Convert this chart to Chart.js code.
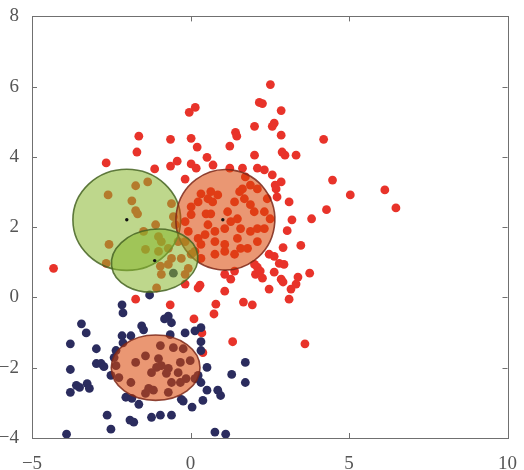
<!DOCTYPE html>
<html>
<head>
<meta charset="utf-8">
<script src="https://cdn.jsdelivr.net/npm/chart.js@4.4.1/dist/chart.umd.min.js"></script>
<style>
  html, body { margin: 0; padding: 0; background: #fff; }
  canvas { display: block; }
</style>
</head>
<body>
<canvas id="grafico" width="524" height="470"></canvas>
<script>
// =========================================================================
// 1. DATOS
// =========================================================================
var puntosRojos = [
  [-2.66,3.83],[-1.63,4.59],[-1.69,4.14],[-1.13,3.66],[-0.63,4.50],[-0.63,3.74],[-0.42,3.88],[-0.04,5.27],
  [0.15,5.41],[0.02,4.53],[0.21,4.28],[0.02,3.80],[0.18,3.68],[0.52,3.99],[0.71,3.77],[-0.17,3.37],
  [1.24,4.31],[1.42,4.70],[1.46,4.59],[2.02,4.87],[2.02,4.05],[2.17,5.55],[1.24,3.68],[1.64,3.68],
  [2.11,3.68],[2.52,6.06],[2.27,5.52],[2.86,5.32],[2.64,4.96],[2.58,4.87],[2.86,4.62],[4.20,4.50],
  [2.89,4.14],[2.98,4.05],[3.33,4.05],[2.33,3.63],[2.58,3.49],[2.86,3.29],[4.48,3.34],[2.70,3.09],
  [2.73,2.86],[5.04,2.92],[6.13,3.06],[6.48,2.55],[4.29,2.50],[3.82,2.24],[3.20,2.21],[3.05,1.90],
  [3.48,1.48],[2.92,1.42],[2.48,1.23],[2.64,1.17],[2.80,0.97],[2.95,0.94],[2.02,0.94],[2.11,0.86],
  [3.76,0.69],[2.64,0.72],[3.39,0.58],[2.86,0.52],[2.92,0.44],[2.05,0.66],[2.27,0.55],[1.08,0.66],
  [1.27,0.52],[0.30,0.35],[0.24,0.27],[1.08,0.18],[2.48,0.24],[3.17,0.24],[3.33,0.38],[3.11,-0.05],
  [1.67,-0.13],[1.95,-0.21],[0.80,-0.19],[0.74,-0.47],[0.11,-0.61],[1.33,-1.26],[3.61,-1.32],[-0.17,0.38],
  [-4.32,0.83],[-1.73,-0.05],[-0.64,-0.21],[0.39,-1.57],[0.36,-1.01],[2.67,3.20],[3.11,2.72],[2.20,0.75],
  [1.39,0.75],
  // bajo las elipses verdes
  [-2.60,2.92],[-1.73,3.18],[-1.35,3.29],[-1.85,2.75],[-1.73,2.47],[-1.67,2.38],[-1.10,2.07],[-2.57,1.51],
  [-2.66,0.97],[-0.60,2.67],[-0.54,2.30],[-0.48,2.07],[-1.48,1.88],[-1.01,1.73],[-0.92,1.59],[-1.42,1.37],
  [-1.01,1.31],[-0.70,1.40],[-0.60,1.11],[-0.70,0.94],[-0.95,0.89],[-0.92,0.66],[-1.07,0.27],[-0.17,0.66],
  [-0.07,0.83],[-0.29,1.11],[0.02,1.23],[-0.39,1.59],[-0.17,1.59],
  // dentro de la elipse naranja superior
  [0.33,2.95],[0.64,3.01],[0.86,2.92],[0.55,2.81],[0.24,2.72],[0.70,2.72],[0.02,2.58],[0.49,2.38],
  [0.64,2.38],[1.39,2.72],[1.55,3.01],[1.64,3.09],[1.73,3.43],[1.89,3.20],[2.11,3.09],[1.70,2.81],
  [1.89,2.64],[2.01,2.44],[2.33,2.44],[2.51,2.24],[2.33,1.96],[2.11,1.96],[1.89,1.88],[1.48,2.24],
  [1.27,2.16],[1.08,1.96],[0.77,1.88],[0.46,1.79],[0.24,1.68],[0.33,1.51],[0.77,1.59],[1.08,1.51],
  [1.48,1.68],[1.58,1.40],[1.39,1.23],[1.08,1.31],[0.77,1.23],[0.33,1.11],[0.14,1.31],[-0.07,1.88],
  [-0.17,2.16],[2.42,2.81],[1.17,2.44],[1.58,1.96],[2.11,1.59],[1.80,1.40],[0.55,2.07],[0.02,2.36]
];

var puntosAzules = [
  [-1.29,0.07],[-2.16,-0.21],[-2.13,-0.44],[-3.44,-0.75],[-3.29,-1.01],[-3.79,-1.32],[-2.97,-1.46],[-1.54,-0.81],
  [-1.48,-0.92],[-2.16,-1.09],[-1.88,-1.09],[-2.13,-1.29],[-0.70,-0.53],[-0.60,-0.72],[-0.82,-0.61],[-0.64,-1.06],
  [-0.17,-1.01],[0.14,-0.95],[0.33,-0.86],[0.33,-1.26],[0.33,-1.51],[-2.41,-1.71],[-2.97,-1.88],[-2.82,-1.88],
  [-2.73,-1.97],[-3.79,-2.05],[-3.60,-2.50],[-3.50,-2.56],[-3.79,-2.70],[-3.26,-2.45],[-3.19,-2.59],[-2.51,-2.22],
  [0.52,-1.99],[0.24,-2.22],[0.33,-2.42],[1.73,-1.85],[1.73,-2.42],[1.30,-2.19],[0.52,-2.64],[0.86,-2.64],
  [0.95,-2.79],[0.39,-2.93],[0.05,-3.12],[-0.29,-2.90],[-0.23,-2.95],[-2.04,-2.84],[-1.85,-2.87],[-1.63,-3.04],
  [-2.63,-3.35],[-2.51,-3.75],[-1.91,-3.49],[-1.79,-3.55],[-1.23,-3.41],[-0.95,-3.35],[-0.60,-3.35],[-3.91,-3.89],
  [0.77,-3.83],[1.11,-3.89],[-0.54,0.69],
  // dentro de la elipse naranja inferior
  [-1.73,-1.85],[-1.42,-1.66],[-0.95,-1.37],[-0.54,-1.43],[-0.23,-1.46],[-1.01,-1.74],[-1.07,-1.99],[-0.92,-1.94],
  [-0.70,-2.02],[-1.23,-2.14],[-0.76,-2.16],[-0.39,-2.14],[-0.32,-1.85],[-0.01,-1.80],[-0.14,-2.31],[-0.32,-2.42],
  [-0.60,-2.42],[-1.32,-2.59],[-1.17,-2.64],[-1.88,-2.42],[-2.26,-2.28],[-2.35,-1.94],[0.14,-2.31],[-0.70,-2.70],
  [-1.42,-2.73],[-2.35,-1.51]
];

// centros marcados (puntos negros)
var centrosX = [-2.01, 1.02, -1.13];
var centrosY = [2.21, 2.21, 1.05];

// elipses: centro, semiejes (unidades de datos) y giro
var elipseX = [-2.01, 1.10, -1.13, -1.10];
var elipseY = [2.21, 2.21, 1.05, -2.00];
var elipseSemiX = [1.70, 1.56, 1.37, 1.40];
var elipseSemiY = [1.44, 1.43, 0.89, 0.93];
var elipseGiro = [0, 0.15, -0.13, 0];
var elipseTipo = ['verde', 'naranja', 'verde', 'naranja'];

var ticksX = [-5, 0, 5, 10];
var ticksY = [-4, -2, 0, 2, 4, 6, 8];

// =========================================================================
// 2. ESTILOS
// =========================================================================
var coloresElipse = {
  verde:   { relleno: 'rgba(136,182,45,0.55)', borde: 'rgba(70,100,35,0.85)' },
  naranja: { relleno: 'rgba(218,70,6,0.56)',   borde: 'rgba(125,40,25,0.85)' }
};
var colorMarco = '#707070';
var fuenteEjes = { family: "'Liberation Serif', 'DejaVu Serif', serif", size: 19 };

function formatoMenos(v) {
  return String(v).replace('-', '\u2212');
}

// =========================================================================
// 3. PLUGINS (elipses y marco con ticks hacia dentro)
// =========================================================================
var pluginElipses = {
  id: 'elipses',
  afterDatasetDraw: function (chart, args) {
    if (args.index !== 1) return;
    var ctx = chart.ctx, sx = chart.scales.x, sy = chart.scales.y, a = chart.chartArea;
    ctx.save();
    ctx.beginPath();
    ctx.rect(a.left, a.top, a.right - a.left, a.bottom - a.top);
    ctx.clip();
    for (var i = 0; i < elipseX.length; i++) {
      var cx = sx.getPixelForValue(elipseX[i]);
      var cy = sy.getPixelForValue(elipseY[i]);
      var rx = Math.abs(sx.getPixelForValue(elipseX[i] + elipseSemiX[i]) - cx);
      var ry = Math.abs(sy.getPixelForValue(elipseY[i] + elipseSemiY[i]) - cy);
      var c = coloresElipse[elipseTipo[i]];
      ctx.beginPath();
      ctx.ellipse(cx, cy, rx, ry, elipseGiro[i], 0, Math.PI * 2);
      ctx.fillStyle = c.relleno;
      ctx.fill();
      ctx.lineWidth = 1.6;
      ctx.strokeStyle = c.borde;
      ctx.stroke();
    }
    ctx.restore();
  }
};

var pluginMarco = {
  id: 'marco',
  afterDraw: function (chart) {
    var ctx = chart.ctx, a = chart.chartArea, sx = chart.scales.x, sy = chart.scales.y;
    var largo = 5;
    ctx.save();
    ctx.strokeStyle = colorMarco;
    ctx.lineWidth = 1;
    ctx.strokeRect(Math.round(a.left) + 0.5, Math.round(a.top) + 0.5,
      Math.round(a.right - a.left), Math.round(a.bottom - a.top));
    ctx.beginPath();
    ticksX.forEach(function (v) {
      var px = Math.round(sx.getPixelForValue(v)) + 0.5;
      ctx.moveTo(px, a.bottom); ctx.lineTo(px, a.bottom - largo);
      ctx.moveTo(px, a.top); ctx.lineTo(px, a.top + largo);
    });
    ticksY.forEach(function (v) {
      var py = Math.round(sy.getPixelForValue(v)) + 0.5;
      ctx.moveTo(a.left, py); ctx.lineTo(a.left + largo, py);
      ctx.moveTo(a.right, py); ctx.lineTo(a.right - largo, py);
    });
    ctx.stroke();
    ctx.restore();
  }
};

// =========================================================================
// 4. GRAFICO
// =========================================================================
function aPuntos(lista) {
  return lista.map(function (p) { return { x: p[0], y: p[1] }; });
}

var ctx = document.getElementById('grafico').getContext('2d');
var miChart = new Chart(ctx, {
  type: 'scatter',
  data: {
    datasets: [
      { label: 'centros', data: centrosX.map(function (x, i) { return { x: x, y: centrosY[i] }; }),
        backgroundColor: '#111', borderWidth: 0, pointRadius: 1.7 },
      { label: 'azules', data: aPuntos(puntosAzules), backgroundColor: '#2b2c5e', borderWidth: 0, pointRadius: 4.4 },
      { label: 'rojos', data: aPuntos(puntosRojos), backgroundColor: '#e8332a', borderWidth: 0, pointRadius: 4.4 }
    ]
  },
  options: {
    responsive: false,
    animation: false,
    events: [],
    layout: { padding: { top: 13, right: 11, left: 0, bottom: 0 } },
    plugins: { legend: { display: false }, tooltip: { enabled: false } },
    scales: {
      x: {
        type: 'linear', min: -5, max: 10,
        afterBuildTicks: function (s) { s.ticks = ticksX.map(function (v) { return { value: v }; }); },
        afterFit: function (s) { s.height = 32; },
        grid: { display: false }, border: { display: false },
        ticks: { font: fuenteEjes, color: '#555', padding: 7, maxRotation: 0, callback: formatoMenos }
      },
      y: {
        type: 'linear', min: -4, max: 8,
        afterBuildTicks: function (s) { s.ticks = ticksY.map(function (v) { return { value: v }; }); },
        afterFit: function (s) { s.width = 32; },
        grid: { display: false }, border: { display: false },
        ticks: { font: fuenteEjes, color: '#555', padding: 5, callback: formatoMenos }
      }
    }
  },
  plugins: [pluginElipses, pluginMarco]
});
</script>
</body>
</html>
